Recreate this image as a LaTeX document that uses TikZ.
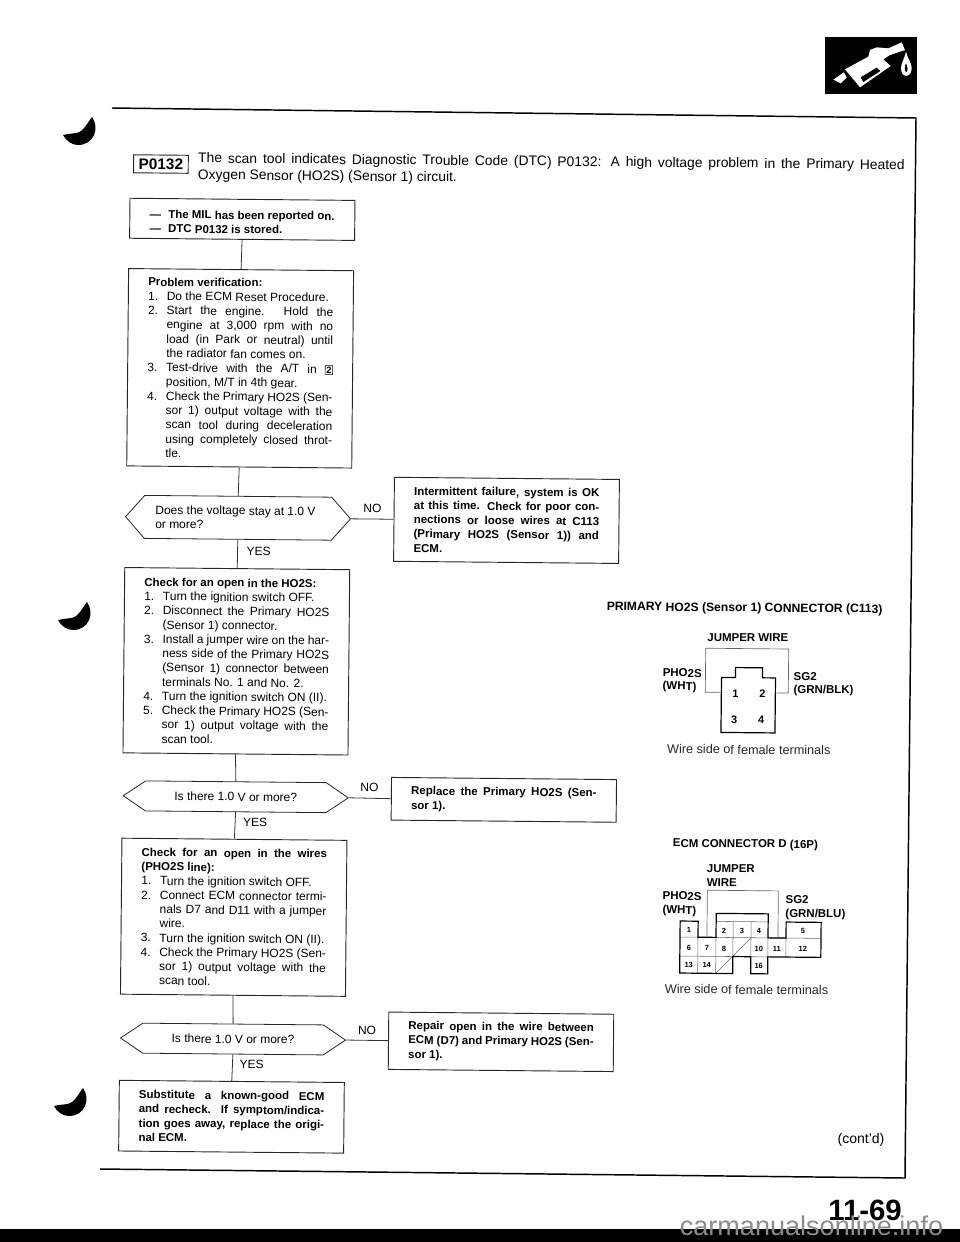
\documentclass[tikz,border=0pt]{standalone}
\usepackage{fontspec}
\setmainfont{Liberation Sans}
\usetikzlibrary{shapes.symbols}
\newcommand{\stepitem}[2]{\par\hangindent=14pt\hangafter=1\noindent\hbox to 14pt{#1\hss}#2\par}
\newcommand{\boldtxt}{\fontsize{8.6}{10.7}\selectfont\bfseries}
\tikzset{
  flowbox/.style={draw=black!85,line width=0.7pt,rectangle,inner sep=0pt,minimum width=#1*0.75pt,
    text width=139pt,align=justify,font=\fontsize{9}{10.7}\selectfont},
  flowbox/.default=225,
  choice/.style={draw=black!85,line width=0.6pt,shape=signal,signal to=west and east,signal pointer angle=#1,
    inner sep=0pt,font=\fontsize{9}{10.7}\selectfont},
  flowline/.style={draw=black!80,line width=0.6pt},
  answer/.style={font=\fontsize{9}{10.7}\selectfont,inner sep=0pt},
  wirelbl/.style={font=\fontsize{8.6}{10.7}\bfseries\selectfont,inner sep=0pt},
  pinnum/.style={font=\fontsize{8.2}{9}\bfseries\selectfont,inner sep=0pt},
  cellnum/.style={font=\fontsize{5.6}{6}\bfseries\selectfont,inner sep=0pt},
  jumper/.style={draw=black!60,line width=0.5pt},
  shellout/.style={draw=black,line width=0.9pt,line join=miter},
  celline/.style={draw=black!60,line width=0.4pt},
  sidenote/.style={font=\fontsize{9.5}{11}\selectfont,inner sep=0pt,text=black!85}
}
\begin{document}
\begin{tikzpicture}[x=0.75pt,y=-0.75pt]
\useasboundingbox (0,0) rectangle (960,1242);
% page furniture, not tilted
\coordinate (ruleleft) at (112,108);
\coordinate (rulecorner) at (916,118);
\coordinate (rulefoot) at (905,1178);
\coordinate (footleft) at (100,1169);
\draw[line width=1.1pt,line join=miter] (ruleleft) -- (rulecorner) -- (rulefoot) -- (footleft);
\fill[black] (0,1229) rectangle (960,1242);
\foreach \dx/\dy in {0/0,-5/485,-9/971}{
  \fill[black,shift={(\dx,\dy)}] (92,117) .. controls (100,128) and (94,145) .. (78,145)
    .. controls (72,145) and (66,141) .. (63,135) .. controls (70,133) and (78,134) .. (81,131)
    .. controls (86,127) and (88,122) .. (92,117) -- cycle;
}
% fuel nozzle
\fill[black] (825,37) rectangle (917,94);
\begin{scope}[shift={(820,0)},scale=1/3]
\fill[white] (40,239) -- (72,217) -- (80,232) -- (62,250) -- cycle;
\fill[white] (75,208) -- (145,170) -- (150,150) -- (170,142) -- (205,145) -- (245,127) -- (255,150) -- (210,165) -- (190,178) -- (212,198) -- (120,262) -- cycle;
\fill[black] (122,232) -- (170,203) -- (181,213) -- (130,246) -- cycle;
\fill[white] (258,155) .. controls (262,175) and (276,190) .. (275,205) .. controls (274,235) and (243,235) .. (243,205) .. controls (243,190) and (254,175) .. (258,155) -- cycle;
\fill[black] (258,190) .. controls (252,200) and (254,216) .. (259,216) .. controls (264,216) and (264,200) .. (258,190) -- cycle;
\end{scope}
\node[font=\fontsize{22}{24}\bfseries\selectfont,inner sep=0pt] (pageno) at (865,1210) {11-69};
\node[font=\fontsize{20.3}{22}\selectfont,text=black!45,inner sep=0pt] (watermark) at (811.5,1226) {carmanualsonline.info};
% tilted sheet
\begin{scope}[rotate=-0.55,transform shape]
\node[draw=black!85,line width=0.7pt,minimum width=41pt,minimum height=13.5pt,inner sep=0pt,font=\fontsize{11.5}{12}\bfseries\selectfont] (dtc) at (162.5,162.5) {P0132};
\node[anchor=north west,inner sep=0pt,text width=530pt,align=justify,font=\fontsize{10.4}{12.5}\selectfont] (header) at (199.4,150.5) {The scan tool indicates Diagnostic Trouble Code (DTC) P0132: A high voltage problem in the Primary Heated\linebreak Oxygen Sensor (HO2S) (Sensor 1) circuit.};

\node[flowbox,minimum height=30pt] (mil) at (244.4,217) {\boldtxt\stepitem{---}{The MIL has been reported on.}\stepitem{---}{DTC P0132 is stored.}};
\node[flowbox,minimum height=148pt] (verify) at (243.7,366) {\boldtxt Problem verification:
\normalfont\fontsize{9}{10.7}\selectfont
\stepitem{1.}{Do the ECM Reset Procedure.}
\stepitem{2.}{Start the engine. Hold the\linebreak engine at 3,000 rpm with no\linebreak load (in Park or neutral) until\linebreak the radiator fan comes on.}
\stepitem{3.}{Test-drive with the A/T in \setlength{\fboxsep}{0.6pt}\fbox{\fontsize{7}{7}\bfseries\selectfont 2}\linebreak position, M/T in 4th gear.}
\stepitem{4.}{Check the Primary HO2S (Sen-\linebreak sor 1) output voltage with the\linebreak scan tool during deceleration\linebreak using completely closed throt-\linebreak tle.}};
\node[choice=97,minimum width=225pt*0.75,minimum height=43*0.75pt] (ask1) at (243,515.5) {\parbox{124pt}{Does the voltage stay at 1.0 V\\or more?}};
\node[flowbox,minimum height=63pt] (intermit) at (511.5,515.5) {\boldtxt Intermittent failure, system is OK\linebreak at this time. Check for poor con-\linebreak nections or loose wires at C113\linebreak (Primary HO2S (Sensor 1)) and\linebreak ECM.};
\node[flowbox,minimum height=139pt] (hoopen) at (242.7,659) {\boldtxt Check for an open in the HO2S:
\normalfont\fontsize{9}{10.7}\selectfont
\stepitem{1.}{Turn the ignition switch OFF.}
\stepitem{2.}{Disconnect the Primary HO2S\linebreak (Sensor 1) connector.}
\stepitem{3.}{Install a jumper wire on the har-\linebreak ness side of the Primary HO2S\linebreak (Sensor 1) connector between\linebreak terminals No. 1 and No. 2.}
\stepitem{4.}{Turn the ignition switch ON (II).}
\stepitem{5.}{Check the Primary HO2S (Sen-\linebreak sor 1) output voltage with the\linebreak scan tool.}};
\node[choice=68,minimum width=225pt*0.75,minimum height=30*0.75pt] (ask2) at (243.4,794.5) {Is there 1.0 V or more?};
\node[flowbox,minimum height=32pt] (replace) at (511.5,795) {\boldtxt Replace the Primary HO2S (Sen-\linebreak sor 1).};
\node[flowbox,minimum height=117pt] (wireopen) at (242.5,915) {\boldtxt Check for an open in the wires\linebreak (PHO2S line):
\normalfont\fontsize{9}{10.7}\selectfont
\stepitem{1.}{Turn the ignition switch OFF.}
\stepitem{2.}{Connect ECM connector termi-\linebreak nals D7 and D11 with a jumper\linebreak wire.}
\stepitem{3.}{Turn the ignition switch ON (II).}
\stepitem{4.}{Check the Primary HO2S (Sen-\linebreak sor 1) output voltage with the\linebreak scan tool.}};
\node[choice=68,minimum width=225pt*0.75,minimum height=30*0.75pt] (ask3) at (243,1036.8) {Is there 1.0 V or more?};
\node[flowbox,minimum height=43pt] (repair) at (511,1037) {\boldtxt Repair open in the wire between\linebreak ECM (D7) and Primary HO2S (Sen-\linebreak sor 1).};
\node[flowbox,minimum height=53pt] (swapecm) at (242.2,1114.5) {\boldtxt Substitute a known-good ECM\linebreak and recheck. If symptom/indica-\linebreak tion goes away, replace the origi-\linebreak nal ECM.};

\draw[flowline] (mil.south) -- (verify.north);
\draw[flowline] (verify.south) -- (ask1.north);
\draw[flowline] (ask1.east) -- (intermit.west);
\draw[flowline] (ask1.south) -- (hoopen.north);
\draw[flowline] (hoopen.south) -- (ask2.north);
\draw[flowline] (ask2.east) -- (replace.west);
\draw[flowline] (ask2.south) -- (wireopen.north);
\draw[flowline] (wireopen.south) -- (ask3.north);
\draw[flowline] (ask3.east) -- (repair.west);
\draw[flowline] (ask3.south) -- (swapecm.north);

\node[answer] (no1) at (377.4,504.8) {NO};
\node[answer] (yes1) at (264,549) {YES};
\node[answer] (no2) at (377,784) {NO};
\node[answer] (yes2) at (263,820) {YES};
\node[answer] (no3) at (377,1027) {NO};
\node[answer] (yes3) at (262,1062) {YES};

% C113
\begin{scope}[shift={(6,-6.5)}]
\node[font=\fontsize{9.1}{11}\bfseries\selectfont,inner sep=0pt] (c113title) at (744.5,608) {PRIMARY HO2S (Sensor 1) CONNECTOR (C113)};
\node[wirelbl] (jumpa) at (748,637) {JUMPER WIRE};
\node[wirelbl,anchor=west] (pho) at (663,673) {PHO2S};
\node[wirelbl,anchor=west] (wht) at (663,687) {(WHT)};
\node[wirelbl,anchor=west] (sgb) at (794,675) {SG2};
\node[wirelbl,anchor=west] (grnblk) at (794,689) {(GRN/BLK)};
\draw[shellout] (722,677) -- (736,677) -- (736,667) -- (763,667) -- (763,677) -- (776,677) -- (776,732) -- (722,732) -- cycle;
\coordinate (jmpa) at (722,692);
\coordinate (jmpb) at (706,648);
\coordinate (jmpc) at (776,692);
\coordinate (jmpd) at (789,692);
\draw[jumper] (jmpa) -| (jmpb) -| (jmpd) -- (jmpc);
\foreach \lab/\cx/\cy in {1/736/693,2/763/693,3/735/719,4/762/719}{
  \node[pinnum] (pin\lab) at (\cx,\cy) {\lab};
}
\node[sidenote] (sidea) at (750,749) {Wire side of female terminals};
\end{scope}

% ECM D
\begin{scope}[shift={(8,-6.5)}]
\node[wirelbl] (ecmtitle) at (745.5,844) {ECM CONNECTOR D (16P)};
\node[wirelbl,anchor=west] (jumpb) at (707,868) {JUMPER};
\node[wirelbl,anchor=west] (jumpw) at (707,882) {WIRE};
\node[wirelbl,anchor=west] (phob) at (663,896) {PHO2S};
\node[wirelbl,anchor=west] (whtb) at (663,911) {(WHT)};
\node[wirelbl,anchor=west] (sgc) at (786,898) {SG2};
\node[wirelbl,anchor=west] (grnblu) at (786,913) {(GRN/BLU)};
\draw[celline] (681,937) -- (822,937);
\draw[celline] (681,956) -- (769,956);
\draw[celline] (717,921) -- (769,921);
\foreach \cx in {699,717,769,787}{\draw[celline] (\cx,937) -- (\cx,956);}
\draw[celline] (699,956) -- (699,973);
\draw[celline] (717,956) -- (717,973);
\draw[celline] (734,921) -- (734,956);
\draw[celline] (752,921) -- (752,956);
\draw[celline] (717,973) -- (752,937);
\draw[shellout] (681,921) -- (699,921) -- (699,937) -- (717,937) -- (717,913) -- (769,913) -- (769,937) -- (787,937) -- (787,921) -- (822,921) -- (822,956) -- (769,956) -- (769,973) -- (752,973) -- (752,956) -- (734,956) -- (734,973) -- (681,973) -- cycle;
\coordinate (ecma) at (708,937);
\coordinate (ecmb) at (779,890);
\coordinate (ecmc) at (779,937);
\draw[jumper] (ecma) |- (ecmb) -- (ecmc);
\foreach \lab/\cx/\cy in {1/690/930,2/725/930,3/743/930,4/760/930,5/804/930,6/690/948,7/708/948,8/725/948,10/760/948,11/778/948,12/804/948,13/690/965,14/708/965,16/760/965}{
  \node[cellnum] (cell\lab) at (\cx,\cy) {\lab};
}
\node[sidenote] (sideb) at (748,989) {Wire side of female terminals};
\end{scope}

\node[font=\fontsize{10.5}{12}\selectfont,inner sep=0pt] (contd) at (872,1131.5) {(cont'd)};
\end{scope}
\end{tikzpicture}
\end{document}
